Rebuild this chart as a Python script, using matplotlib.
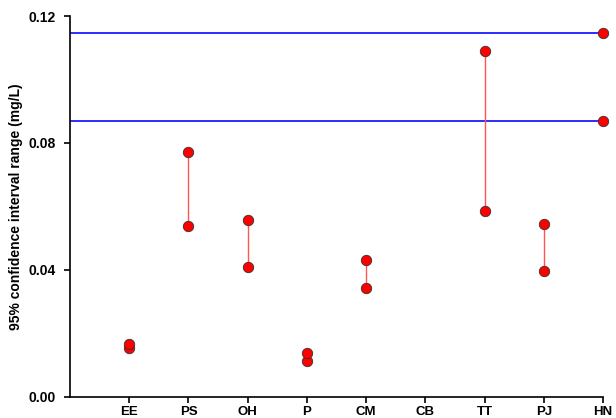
import matplotlib
matplotlib.use("Agg")
import matplotlib.pyplot as plt
import numpy as np

plt.rcParams['font.family'] = ['Liberation Sans', 'DejaVu Sans']

categories = ["EE", "PS", "OH", "P", "CM", "CB", "TT", "PJ", "HN"]
lower = [0.0152, 0.0538, 0.0410, 0.0113, 0.0344, np.nan, 0.0585, 0.0396, 0.0870]
upper = [0.0166, 0.0772, 0.0557, 0.0137, 0.0431, np.nan, 0.1091, 0.0544, 0.1147]
reference_site = "HN"
y_ticks = [0.00, 0.04, 0.08, 0.12]

fig = plt.figure(figsize=(6.16, 4.18), dpi=100)
ax = fig.add_axes([70/616, 1-396.7/418, (603-70)/616, (396.7-16)/418])

x = np.arange(1, len(categories) + 1)
ref_idx = categories.index(reference_site)

# the reference site's interval is shown as two horizontal bounds
for lvl in (lower[ref_idx], upper[ref_idx]):
    ax.axhline(lvl, color="#1a1aff", lw=1.3, zorder=1)

# vertical connectors for the other sites
for i, (xi, lo, hi) in enumerate(zip(x, lower, upper)):
    if i == ref_idx or np.isnan(lo):
        continue
    ax.plot([xi, xi], [lo, hi], color="#ff5555", lw=1.0, zorder=2)

mk = dict(linestyle='none', marker='o', color="red", mec="#333333", mew=0.6,
          ms=7.5, zorder=3, clip_on=False)
ax.plot(x, lower, **mk)
ax.plot(x, upper, **mk)

ax.set_xlim(0, 9)
ax.set_ylim(0, 0.12)
ax.set_xticks(x)
ax.set_xticklabels(categories, fontweight="bold", fontsize=9.5)
ax.set_yticks(y_ticks)
ax.set_yticklabels([f"{v:.2f}" for v in y_ticks], fontweight="bold", fontsize=10)
ax.set_ylabel("95% confidence interval range (mg/L)", fontweight="bold", fontsize=10)

ax.spines['top'].set_visible(False)
ax.spines['right'].set_visible(False)
for s in ('left', 'bottom'):
    ax.spines[s].set_linewidth(1.2)
ax.tick_params(axis='y', direction='out', length=4, width=1.2, pad=6)
ax.tick_params(axis='x', direction='out', length=4, width=1.2, pad=2.5)

fig.savefig("out.png", dpi=100)
